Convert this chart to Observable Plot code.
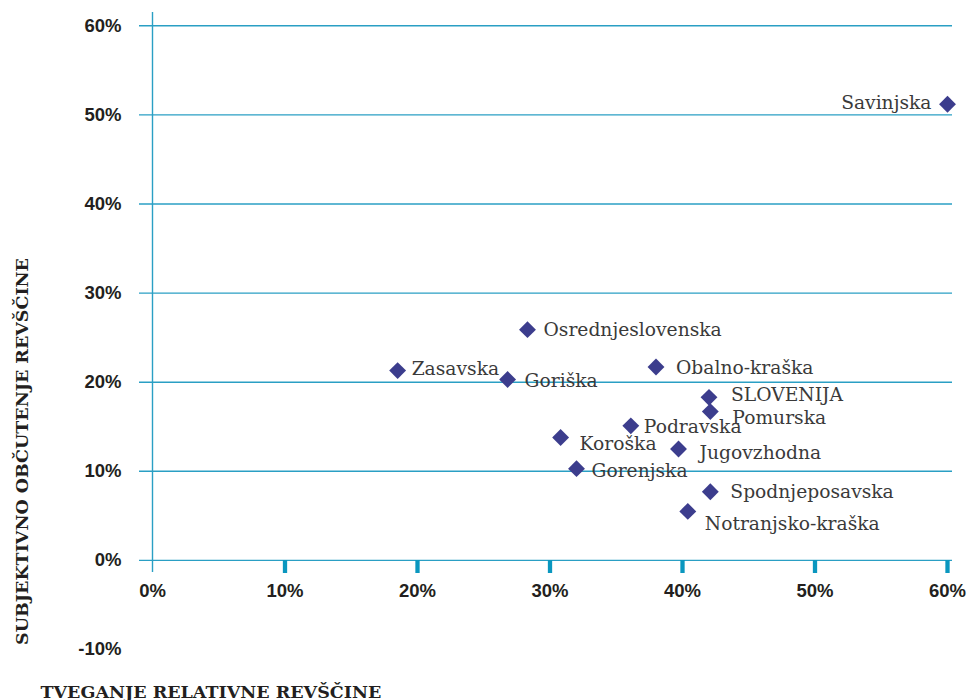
<!DOCTYPE html>
<html>
<head>
<meta charset="utf-8">
<script src="https://cdn.jsdelivr.net/npm/d3@7"></script>
<script src="https://cdn.jsdelivr.net/npm/@observablehq/plot@0.6"></script>
<style>
  html, body { margin: 0; padding: 0; background: #ffffff; }
  #chart { width: 974px; height: 700px; overflow: hidden; }
</style>
</head>
<body>
<div id="chart"></div>
<script>
// ---- data ----
const regions = ["Savinjska", "Osrednjeslovenska", "Zasavska", "Goriška", "Obalno-kraška", "SLOVENIJA", "Pomurska", "Podravska", "Koroška", "Jugovzhodna", "Gorenjska", "Spodnjeposavska", "Notranjsko-kraška"];
const relativePoverty = [0.600, 0.283, 0.185, 0.268, 0.380, 0.420, 0.421, 0.361, 0.308, 0.397, 0.320, 0.421, 0.404];
const subjectivePoverty = [0.512, 0.259, 0.213, 0.203, 0.217, 0.183, 0.167, 0.151, 0.138, 0.125, 0.103, 0.077, 0.055];
const xTicks = [0, 0.1, 0.2, 0.3, 0.4, 0.5, 0.6];
const yTicks = [-0.1, 0, 0.1, 0.2, 0.3, 0.4, 0.5, 0.6];
const yGrid = [0, 0.1, 0.2, 0.3, 0.4, 0.5, 0.6];
const xTitle = "TVEGANJE RELATIVNE REVŠČINE";
const yTitle = "SUBJEKTIVNO OBČUTENJE REVŠČINE";

// ---- layout (label nudges in pixels) ----
const labelNudge = {
  "Savinjska": [-16, -1, "end"],
  "Osrednjeslovenska": [16, 0, "start"],
  "Zasavska": [14, -2, "start"],
  "Goriška": [17, 1, "start"],
  "Obalno-kraška": [20, 1, "start"],
  "SLOVENIJA": [22, -2, "start"],
  "Pomurska": [22, 6, "start"],
  "Podravska": [13, 1, "start"],
  "Koroška": [19, 7, "start"],
  "Jugovzhodna": [21, 4, "start"],
  "Gorenjska": [15, 2, "start"],
  "Spodnjeposavska": [20, 0, "start"],
  "Notranjsko-kraška": [17, 13, "start"]
};

const data = regions.map((name, i) => ({name, x: relativePoverty[i], y: subjectivePoverty[i]}));

const gridColor = "#2a9fc4";
const tickColor = "#0a97bf";
const pointColor = "#3c3d8d";
const pct = d => `${Math.round(d * 100)}%`;
const sansBold = "'Liberation Sans', Arial, sans-serif";
const serif = "'DejaVu Serif', serif";

const labelMarks = regions.map(name => {
  const [dx, dy, anchor] = labelNudge[name];
  return Plot.text(data.filter(d => d.name === name), {
    x: "x", y: "y", text: "name", dx, dy, textAnchor: anchor,
    fontFamily: serif, fontSize: 18.7, fill: "#3a3a3a"
  });
});

const plot = Plot.plot({
  width: 974,
  height: 700,
  marginLeft: 139,
  marginRight: 22,
  marginTop: 12,
  marginBottom: 140,
  style: {background: "#ffffff", fontFamily: sansBold, overflow: "visible"},
  x: {domain: [0, 0.6], range: [152, 947], label: null},
  y: {domain: [-0.1, 0.6], range: [649, 25.3], label: null},
  marks: [
    Plot.ruleY(yGrid, {stroke: gridColor, strokeWidth: 1.4}),
    Plot.ruleX([0], {stroke: gridColor, strokeWidth: 1.4, insetBottom: -12}),
    Plot.axisX(xTicks.slice(1), {anchor: "bottom", tickSize: 13, stroke: tickColor, strokeWidth: 4.3, tickFormat: () => "", label: null}),
    Plot.axisX(xTicks, {anchor: "bottom", tickSize: 0, tickPadding: 23, tickFormat: pct,
      fontFamily: sansBold, fontWeight: "bold", fontSize: 18.5, fill: "#231f20", label: null}),
    Plot.axisY(yTicks, {anchor: "left", tickSize: 0, tickPadding: 18, tickFormat: pct,
      fontFamily: sansBold, fontWeight: "bold", fontSize: 18.5, fill: "#231f20", label: null}),
    Plot.dot(data, {x: "x", y: "y", symbol: "diamond2", r: 7.6, fill: pointColor, stroke: null}),
    ...labelMarks,
    Plot.text([xTitle], {text: d => d, frameAnchor: "bottom-left", dx: -99, dy: 137, textAnchor: "start", lineAnchor: "bottom",
      fontFamily: serif, fontWeight: "bold", fontSize: 17.5, fill: "#231f20"}),
    Plot.text([yTitle], {text: d => d, frameAnchor: "bottom-left", dx: -117, dy: -109, rotate: -90, textAnchor: "middle", lineAnchor: "middle",
      fontFamily: serif, fontWeight: "bold", fontSize: 17.5, fill: "#231f20"})
  ]
});

document.getElementById("chart").appendChild(plot);
</script>
</body>
</html>
